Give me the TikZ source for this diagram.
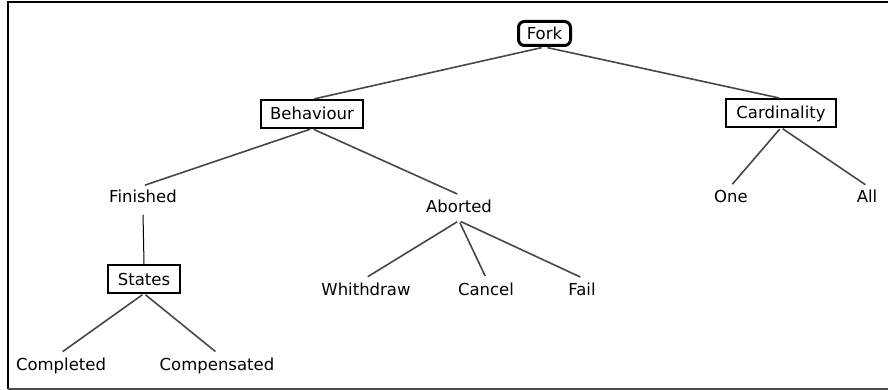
\documentclass[tikz,border=0pt]{standalone}
\usepackage{fontspec}
\setmainfont{DejaVu Sans}
\begin{document}
\begin{tikzpicture}[x=1pt,y=-1pt,
  every node/.style={font=\fontsize{16.5}{20}\selectfont, text=black},
  boxnode/.style={draw=black, line width=1.2pt, inner xsep=0pt, inner ysep=0pt,
    text height=12pt, text depth=0pt, minimum height=28pt},
  rootnode/.style={draw=black, line width=3pt, rounded corners=6pt, inner sep=0pt,
    text height=12pt, text depth=0pt, minimum width=52pt, minimum height=24pt},
  leafnode/.style={inner xsep=2pt, inner ysep=5pt, text height=12pt, text depth=3.5pt, anchor=base},
  link/.style={draw=black!72, line width=1.6pt, shorten <=2pt, shorten >=2pt},
  stem/.style={draw=black, line width=1pt}
]
\useasboundingbox (0,0) rectangle (888,390);

% frame on the left, top and bottom
\draw[black, line width=2pt] (888,2.5) -- (8,2.5) -- (8,389);
\draw[black!70, line width=1.2pt] (8,389) -- (888,389);

% feature nodes
\node[rootnode] (fork) at (544.5,33.5) {Fork};
\node[boxnode, minimum width=102pt] (beh) at (312,114) {Behaviour};
\node[boxnode, minimum width=110pt] (card) at (781,113) {Cardinality};
\node[boxnode, minimum width=72pt] (states) at (144,279) {States};

\node[leafnode] (fin) at (143,203) {Finished};
\node[leafnode] (abo) at (459,212) {Aborted};
\node[leafnode] (one) at (731,203) {One};
\node[leafnode] (all) at (867,203) {All};
\node[leafnode] (wit) at (366,295) {Whithdraw};
\node[leafnode] (can) at (486,295) {Cancel};
\node[leafnode] (fail) at (582,295) {Fail};
\node[leafnode] (comp) at (61,370) {Completed};
\node[leafnode] (cmps) at (217,370) {Compensated};

% connectors
\draw[link, shorten <=3pt] (fork.south) -- (beh.north);
\draw[link, shorten <=3pt] (fork.south) -- (card.north);
\draw[link] (beh.south) -- (fin.north);
\draw[link] (beh.south) -- (abo.north);
\draw[link] (card.south) -- (one.north);
\draw[link] (card.south) -- (all.north);
\draw[stem, shorten <=3pt] (fin.south) -- (states.north);
\draw[link] (abo.south) -- (wit.north);
\draw[link] (abo.south) -- (can.north);
\draw[link] (abo.south) -- (fail.north);
\draw[link] (states.south) -- (comp.north);
\draw[link] (states.south) -- (cmps.north);
\end{tikzpicture}
\end{document}
